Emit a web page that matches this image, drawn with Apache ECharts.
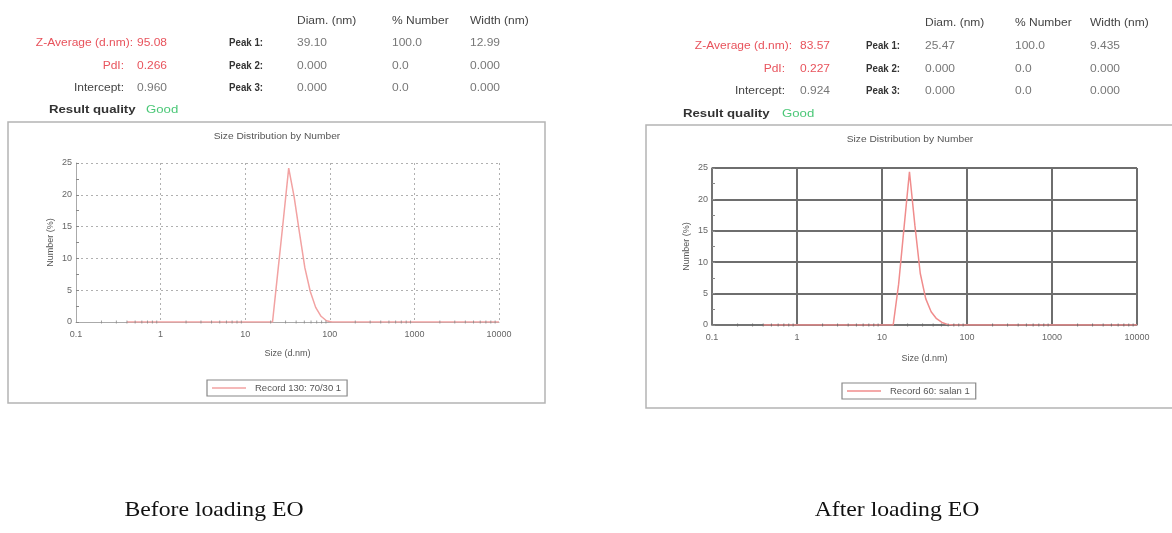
<!DOCTYPE html>
<html>
<head>
<meta charset="utf-8">
<script src="https://cdn.jsdelivr.net/npm/echarts@6/dist/echarts.min.js"></script>
<style>
  html, body { margin: 0; padding: 0; background: #fff; }
  #main { width: 1172px; height: 533px; }
</style>
</head>
<body>
<div id="main"></div>
<script>
// Malvern size bins (d.nm)
const sizes = [0.4, 0.4632, 0.5365, 0.6213, 0.7195, 0.8332, 0.9649, 1.117, 1.294, 1.499,
  1.736, 2.010, 2.328, 2.696, 3.122, 3.615, 4.187, 4.849, 5.615, 6.503,
  7.531, 8.721, 10.10, 11.70, 13.54, 15.69, 18.17, 21.04, 24.36, 28.21,
  32.67, 37.84, 43.82, 50.75, 58.77, 68.06, 78.82, 91.28, 105.7, 122.4,
  141.8, 164.2, 190.1, 220.2, 255.0, 295.3, 342.0, 396.1, 458.7, 531.2,
  615.1, 712.4, 825.0, 955.4, 1106, 1281, 1484, 1718, 1990, 2305,
  2669, 3091, 3580, 4145, 4801, 5560, 6439, 7456, 8635, 10000];

// Number (%) before loading EO
const beforeNumber = [0, 0, 0, 0, 0, 0, 0, 0, 0, 0,
  0, 0, 0, 0, 0, 0, 0, 0, 0, 0,
  0, 0, 0, 0, 0, 0, 0, 0, 8, 16,
  24.2, 19.7, 14, 8.5, 4.8, 2.3, 0.9, 0.2, 0, 0,
  0, 0, 0, 0, 0, 0, 0, 0, 0, 0,
  0, 0, 0, 0, 0, 0, 0, 0, 0, 0,
  0, 0, 0, 0, 0, 0, 0, 0, 0, 0];

// Number (%) after loading EO
const afterNumber = [0, 0, 0, 0, 0, 0, 0, 0, 0, 0,
  0, 0, 0, 0, 0, 0, 0, 0, 0, 0,
  0, 0, 0, 0, 0, 6.5, 15.5, 24.4, 15.9, 8.2,
  4.2, 2.1, 1.0, 0.4, 0.1, 0, 0, 0, 0, 0,
  0, 0, 0, 0, 0, 0, 0, 0, 0, 0,
  0, 0, 0, 0, 0, 0, 0, 0, 0, 0,
  0, 0, 0, 0, 0, 0, 0, 0, 0, 0];

// log minor tick positions on the size axis
const minorSizes = [0.2, 0.3, 0.4, 0.5, 0.6, 0.7, 0.8, 0.9,
  2, 3, 4, 5, 6, 7, 8, 9,
  20, 30, 40, 50, 60, 70, 80, 90,
  200, 300, 400, 500, 600, 700, 800, 900,
  2000, 3000, 4000, 5000, 6000, 7000, 8000, 9000];

const beforeName = 'Record 130: 70/30 1';
const afterName = 'Record 60: salan 1';

const summaryLabels = ['Z-Average (d.nm):', 'PdI:', 'Intercept:'];
const beforeSummary = ['95.08', '0.266', '0.960'];
const afterSummary = ['83.57', '0.227', '0.924'];
const peakHeaders = ['Diam. (nm)', '% Number', 'Width (nm)'];
const peakLabels = ['Peak 1:', 'Peak 2:', 'Peak 3:'];
const beforePeaks = [['39.10', '100.0', '12.99'], ['0.000', '0.0', '0.000'], ['0.000', '0.0', '0.000']];
const afterPeaks = [['25.47', '100.0', '9.435'], ['0.000', '0.0', '0.000'], ['0.000', '0.0', '0.000']];

const chart = echarts.init(document.getElementById('main'));

const SX = 1.2;  // the scan is stretched sideways
const RED = '#e8535c';

function txt(x, y, s, o) {
  o = o || {};
  return {
    type: 'text', x: x, y: y, scaleX: o.sx || SX, z: 10,
    style: {
      text: s,
      fontFamily: o.family || 'Liberation Sans',
      fontSize: o.size || 10,
      fontWeight: o.weight || 'normal',
      fill: o.color || '#666',
      align: o.align || 'left',
      verticalAlign: 'middle'
    }
  };
}

// header block of one panel
function header(p, summary, peaks) {
  const out = [];
  summaryLabels.forEach((lab, i) => {
    const isRed = i < 2;
    out.push(txt(i === 0 ? p.labZ : p.lab, p.rows[i], lab, {align: 'right', color: isRed ? RED : '#444'}));
    out.push(txt(p.val, p.rows[i], summary[i], {color: isRed ? RED : '#777'}));
  });
  out.push(txt(p.rq, p.rqY, 'Result quality', {size: 11, weight: 'bold', color: '#333'}));
  out.push(txt(p.good, p.rqY, 'Good', {size: 11, color: '#4cc878'}));
  peakHeaders.forEach((h, j) => out.push(txt(p.cols[j], p.headY, h, {color: '#444'})));
  peakLabels.forEach((lab, i) => {
    out.push(txt(p.peak, p.rows[i], lab, {align: 'right', color: '#333', weight: 'bold', size: 10, sx: 0.97}));
    peaks[i].forEach((v, j) => out.push(txt(p.cols[j], p.rows[i], v, {color: '#777'})));
  });
  return out;
}

const leftHead = {labZ: 133, lab: 124, val: 137, rows: [43, 66, 88], rq: 49, good: 146, rqY: 110,
  headY: 21, cols: [297, 392, 470], peak: 263};
const rightHead = {labZ: 792, lab: 785, val: 800, rows: [46, 69, 91], rq: 683, good: 782, rqY: 114,
  headY: 23, cols: [925, 1015, 1090], peak: 900};

const graphic = [
  {type: 'rect', shape: {x: 8, y: 122, width: 537, height: 281},
    style: {fill: 'none', stroke: '#b4b4b4', lineWidth: 1.5}, z: 0},
  {type: 'rect', shape: {x: 646, y: 125, width: 560, height: 283},
    style: {fill: 'none', stroke: '#b4b4b4', lineWidth: 1.5}, z: 0},
  txt(277, 137, 'Size Distribution by Number', {size: 8.5, color: '#555', align: 'center'}),
  txt(910, 140, 'Size Distribution by Number', {size: 8.5, color: '#555', align: 'center'}),
  txt(214, 510, 'Before loading EO', {family: 'Liberation Serif', size: 21, color: '#111', align: 'center', sx: 1.13}),
  txt(897, 510, 'After loading EO', {family: 'Liberation Serif', size: 21, color: '#111', align: 'center', sx: 1.13})
].concat(header(leftHead, beforeSummary, beforePeaks), header(rightHead, afterSummary, afterPeaks));

function xAxis(i, dark) {
  return {
    type: 'log', logBase: 10, gridIndex: i, min: 0.1, max: 10000,
    name: 'Size (d.nm)', nameLocation: 'middle', nameGap: dark ? 29 : 27,
    nameTextStyle: {fontSize: 9, color: '#555', fontFamily: 'Liberation Sans'},
    axisLine: {lineStyle: {color: dark ? '#777' : '#aaa', width: dark ? 1.5 : 1}},
    axisTick: {show: false},
    axisLabel: {fontSize: 9, color: '#666', margin: 8, fontFamily: 'Liberation Sans',
      formatter: v => String(v)},
    splitLine: {show: true, lineStyle: dark ? {color: '#6e6e6e', width: 2} : {color: '#b0b0b0', width: 1, type: [2, 3]}}
  };
}
function yAxis(i, dark) {
  return {
    type: 'value', gridIndex: i, min: 0, max: 25, interval: 5,
    name: 'Number (%)', nameLocation: 'middle', nameGap: 21,
    nameTextStyle: {fontSize: 9, color: '#555', fontFamily: 'Liberation Sans'},
    axisLine: {show: true, lineStyle: {color: dark ? '#777' : '#aaa', width: dark ? 1.5 : 1}},
    axisTick: {show: true, length: 3, inside: true, lineStyle: {color: '#888'}},
    minorTick: {show: true, splitNumber: 2, length: 3, lineStyle: {color: '#888'}},
    axisLabel: {fontSize: 9, color: '#666', margin: 4, fontFamily: 'Liberation Sans'},
    splitLine: {show: true, lineStyle: dark ? {color: '#6e6e6e', width: 2} : {color: '#b0b0b0', width: 1, type: [2, 3]}}
  };
}

function legend(name, left, top) {
  return {
    data: [name], left: left, top: top, orient: 'horizontal',
    borderColor: '#888', borderWidth: 1.2, padding: [3, 6, 3, 5],
    icon: 'rect', itemWidth: 34, itemHeight: 1.5, itemGap: 0,
    textStyle: {fontSize: 9.5, color: '#555', fontFamily: 'Liberation Sans', padding: [0, 0, 0, 4]}
  };
}

const option = {
  backgroundColor: '#fff',
  animation: false,
  graphic: graphic,
  legend: [legend(beforeName, 207, 380), legend(afterName, 842, 383)],
  grid: [
    {left: 76, top: 163, width: 423, height: 159},
    {left: 712, top: 168, width: 425, height: 157}
  ],
  xAxis: [xAxis(0, false), xAxis(1, true)],
  yAxis: [yAxis(0, false), yAxis(1, true)],
  series: [
    {type: 'line', name: beforeName, xAxisIndex: 0, yAxisIndex: 0, symbol: 'none', z: 3,
      data: sizes.map((s, i) => [s, beforeNumber[i]]),
      lineStyle: {color: '#f2a2a2', width: 1.5}, itemStyle: {color: '#f2a2a2'}},
    {type: 'line', name: afterName, xAxisIndex: 1, yAxisIndex: 1, symbol: 'none', z: 3,
      data: sizes.map((s, i) => [s, afterNumber[i]]),
      lineStyle: {color: '#f08c8c', width: 1.5}, itemStyle: {color: '#f08c8c'}},
    {type: 'scatter', xAxisIndex: 0, yAxisIndex: 0, silent: true, z: 4,
      data: minorSizes.map(s => [s, 0]), symbol: 'rect', symbolSize: [1, 3], itemStyle: {color: '#888'}},
    {type: 'scatter', xAxisIndex: 1, yAxisIndex: 1, silent: true, z: 4,
      data: minorSizes.map(s => [s, 0]), symbol: 'rect', symbolSize: [1, 3], itemStyle: {color: '#666'}}
  ]
};

chart.setOption(option);
</script>
</body>
</html>
